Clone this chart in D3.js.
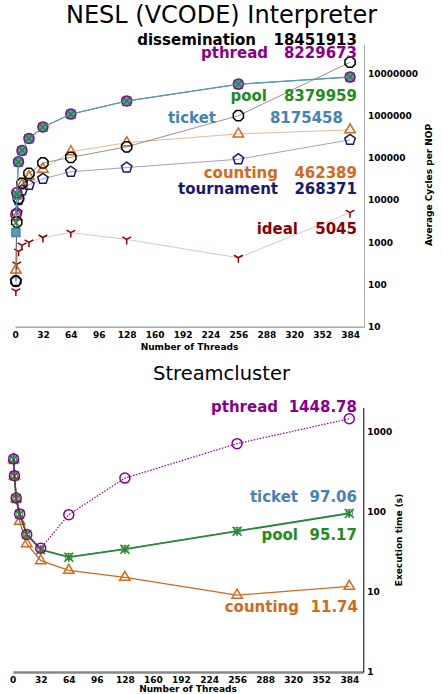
<!DOCTYPE html>
<html>
<head>
<meta charset="utf-8">
<script src="https://cdn.jsdelivr.net/npm/d3@7"></script>
<style>
  body { margin: 0; background: #fff; }
  svg { display: block; font-family: "DejaVu Sans", sans-serif; }
</style>
</head>
<body>
<div id="chart"></div>
<script>
// >-----------------< Data >-------------------<
const threads = [1, 2, 4, 8, 16, 32, 64, 128, 256, 384];
const xTicks = [0, 32, 64, 96, 128, 160, 192, 224, 256, 288, 320, 352, 384];

// NESL (VCODE) Interpreter, average cycles per NOP
const neslPthread = [4500, 15000, 81000, 150000, 290000, 540000, 1090000, 2240000, 5600000, 8229673];
const neslPool = [2900, 14000, 80000, 149000, 289000, 538000, 1085000, 2230000, 5580000, 8379959];
const neslTicket = [1700, 13000, 79000, 148000, 285000, 530000, 1080000, 2200000, 5500000, 8175458];
const neslDissemination = [120, 3000, 11000, 25000, 43000, 76000, 103000, 183000, 1000000, 18451913];
const neslCounting = [220, 4000, 13000, 23000, 36000, 54000, 140000, 230000, 370000, 462389];
const neslTournament = [120, 5000, 10000, 17000, 23000, 32000, 47000, 59000, 93000, 268371];
const neslIdeal = [70, 300, 610, 850, 1000, 1300, 1700, 1170, 430, 5045];
const neslYTicks = [10, 100, 1000, 10000, 100000, 1000000, 10000000];

// Streamcluster, execution time (s)
const scPthread = [455, 282, 148, 94, 52, 35, 92, 263, 708, 1448.78];
const scPool = [450, 280, 146, 93, 52, 33.5, 27, 34, 57, 95.17];
const scTicket = [452, 281, 147, 93, 52, 34, 27.5, 34.5, 58, 97.06];
const scCounting = [450, 280, 146, 76, 40, 24.5, 18.6, 15.2, 9.1, 11.74];
const scOther = [455, 282, 148, 94, 52, 34];
const scYTicks = [1, 10, 100, 1000];

// >-----------------< Graph Config >-------------------<
const config = {
  width: 443,
  height: 694,
  colors: {
    pthread: '#8b008b',
    pool: '#228b22',
    ticket: '#4682b4',
    dissemination: '#000000',
    counting: '#d2691e',
    tournament: '#191970',
    ideal: '#8b0000',
    other: '#333333'
  }
};

// >-----------------< Markers >-------------------<
function polygon(n, r, rot) {
  const pts = d3.range(n).map(i => {
    const a = rot + i * 2 * Math.PI / n;
    return [r * Math.cos(a), r * Math.sin(a)];
  });
  return "M" + pts.map(p => p.join(",")).join("L") + "Z";
}

function markerPath(type, r) {
  switch (type) {
    case "circle": return d3.arc()({innerRadius: 0, outerRadius: r, startAngle: 0, endAngle: 2 * Math.PI});
    case "square": return `M${-r},${-r}H${r}V${r}H${-r}Z`;
    case "triangle": return polygon(3, r, -Math.PI / 2);
    case "pentagon": return polygon(5, r, -Math.PI / 2);
    case "octagon": return polygon(8, r, Math.PI / 8);
    case "x": return `M${-r},${-r}L${r},${r}M${-r},${r}L${r},${-r}`;
    case "star": return `M${-r},${-r}L${r},${r}M${-r},${r}L${r},${-r}M0,${-r}V${r}`;
    case "tri_down": return `M0,0V${r}M0,0L${-r * 0.87},${-r * 0.5}M0,0L${r * 0.87},${-r * 0.5}`;
  }
}

// >-----------------< Panel >-------------------<
function drawPanel(svg, p) {
  const x = d3.scaleLinear().domain([0, 400]).range([p.left, p.right]);
  const y = d3.scaleLog().domain(p.yDomain).range([p.bottom, p.top]);

  svg.append("text")
    .attr("x", config.width / 2)
    .attr("y", p.titleY)
    .attr("text-anchor", "middle")
    .attr("font-size", p.titleSize)
    .text(p.title);

  // Axis
  const gx = svg.append("g")
    .attr("transform", `translate(0,${p.bottom})`)
    .call(d3.axisBottom(x).tickValues(xTicks).tickSize(0).tickPadding(5).tickSizeOuter(0));
  gx.select(".domain").attr("stroke", p.bottomSpine).attr("stroke-width", p.bottomSpineWidth);
  gx.selectAll("text").attr("font-size", "9px").attr("font-weight", "bold").attr("fill", "#000")
    .attr("font-family", "DejaVu Sans");

  const gy = svg.append("g")
    .attr("transform", `translate(${p.right},0)`)
    .call(d3.axisRight(y).tickValues(p.yTicks).tickFormat(d3.format("d")).tickSize(0).tickPadding(4).tickSizeOuter(0));
  gy.select(".domain").attr("stroke", p.rightSpine).attr("stroke-width", 1);
  gy.selectAll("text").attr("font-size", "9px").attr("font-weight", "bold").attr("fill", "#000")
    .attr("font-family", "DejaVu Sans");

  svg.append("text")
    .attr("x", (p.left + p.right) / 2)
    .attr("y", p.bottom + p.xLabelOffset)
    .attr("text-anchor", "middle")
    .attr("font-size", "9px")
    .attr("font-weight", "bold")
    .text("Number of Threads");

  svg.append("text")
    .attr("transform", `translate(${p.yLabelX},${p.yLabelY}) rotate(-90)`)
    .attr("text-anchor", "middle")
    .attr("font-size", "9px")
    .attr("font-weight", "bold")
    .text(p.yLabel);

  // Lines and markers
  p.series.forEach(s => {
    const pts = s.values.map((v, i) => [threads[i], v]);
    svg.append("path")
      .datum(pts)
      .attr("fill", "none")
      .attr("stroke", s.lineColor || s.color)
      .attr("stroke-opacity", s.lineOpacity || 1)
      .attr("stroke-width", s.lineWidth || 1)
      .attr("stroke-dasharray", s.dash || null)
      .attr("d", d3.line().x(d => x(d[0])).y(d => y(d[1])));

    if (!s.marker) return;
    svg.selectAll(null)
      .data(pts)
      .enter().append("path")
      .attr("transform", d => `translate(${x(d[0])},${y(d[1])})`)
      .attr("d", markerPath(s.marker, s.size))
      .attr("fill", s.fill || "none")
      .attr("stroke", s.color)
      .attr("stroke-width", s.markerWidth || 1.5);
  });

  // Labels
  p.labels.forEach(l => {
    const t = svg.append("g")
      .attr("font-size", "15px")
      .attr("font-weight", "bold")
      .attr("fill", config.colors[l.key])
      .attr("text-anchor", "end");
    t.append("text").attr("x", l.nameX).attr("y", l.y).attr("dy", "0.35em").text(l.key);
    t.append("text").attr("x", l.valueX).attr("y", l.y).attr("dy", "0.35em").text(l.value);
  });
}

// >-----------------< Build >-------------------<
const svg = d3.select("#chart").append("svg")
  .attr("width", config.width)
  .attr("height", config.height);

const c = config.colors;

drawPanel(svg, {
  title: "NESL (VCODE) Interpreter",
  titleY: 23,
  titleSize: "24px",
  left: 15, right: 364, top: 44, bottom: 326.7,
  yDomain: [10, 5e7],
  yTicks: neslYTicks,
  yLabel: "Average Cycles per NOP",
  yLabelX: 432, yLabelY: 185,
  xLabelOffset: 23,
  bottomSpine: "#aaa", bottomSpineWidth: 1.5, rightSpine: "#aaa",
  series: [
    {values: neslIdeal, color: c.ideal, lineColor: c.ideal, lineOpacity: 0.3, lineWidth: 0.8, marker: "tri_down", size: 5},
    {values: neslTournament, color: c.tournament, lineColor: "#6a6ab0", lineOpacity: 0.8, lineWidth: 0.8, marker: "pentagon", size: 5.5},
    {values: neslCounting, color: c.counting, lineColor: c.counting, lineOpacity: 0.6, lineWidth: 0.8, marker: "triangle", size: 6},
    {values: neslDissemination, color: c.dissemination, lineColor: "#555", lineOpacity: 0.8, lineWidth: 0.8, marker: "octagon", size: 5.5},
    {values: neslTicket, color: c.ticket, lineColor: "#5a9aa8", lineWidth: 0.9, marker: "square", size: 4, fill: "#5f9ea0"},
    {values: neslPthread, color: c.pthread, lineColor: "#5a9aa8", lineWidth: 0.9, marker: "circle", size: 5},
    {values: neslPool, color: c.pool, lineColor: "#5a9aa8", lineWidth: 0.9, marker: "x", size: 3.5}
  ],
  labels: [
    {key: "dissemination", value: "18451913", nameX: 256, valueX: 357, y: 40},
    {key: "pthread", value: "8229673", nameX: 268, valueX: 357, y: 53},
    {key: "pool", value: "8379959", nameX: 267, valueX: 357, y: 96},
    {key: "ticket", value: "8175458", nameX: 216, valueX: 343, y: 118},
    {key: "counting", value: "462389", nameX: 278, valueX: 357, y: 173},
    {key: "tournament", value: "268371", nameX: 278, valueX: 357, y: 189},
    {key: "ideal", value: "5045", nameX: 298, valueX: 357, y: 229}
  ]
});

drawPanel(svg, {
  title: "Streamcluster",
  titleY: 380,
  titleSize: "19.5px",
  left: 12.7, right: 363.3, top: 407.5, bottom: 672,
  yDomain: [1, 2000],
  yTicks: scYTicks,
  yLabel: "Execution time (s)",
  yLabelX: 402, yLabelY: 540,
  xLabelOffset: 20,
  bottomSpine: "#888", bottomSpineWidth: 2.5, rightSpine: "#000",
  series: [
    {values: scCounting, color: c.counting, lineWidth: 1.3, marker: "triangle", size: 6},
    {values: scOther, color: c.other, lineWidth: 1.5},
    {values: scTicket, color: c.ticket, lineWidth: 1, marker: "square", size: 3, markerWidth: 1},
    {values: scPool, color: c.pool, lineWidth: 1.5, marker: "star", size: 4.5},
    {values: scPthread, color: c.pthread, lineWidth: 1.2, dash: "1.5,1.5", marker: "circle", size: 5}
  ],
  labels: [
    {key: "pthread", value: "1448.78", nameX: 278, valueX: 357, y: 407},
    {key: "ticket", value: "97.06", nameX: 298, valueX: 357, y: 497},
    {key: "pool", value: "95.17", nameX: 298, valueX: 357, y: 535},
    {key: "counting", value: "11.74", nameX: 299, valueX: 358, y: 607}
  ]
});
</script>
</body>
</html>
